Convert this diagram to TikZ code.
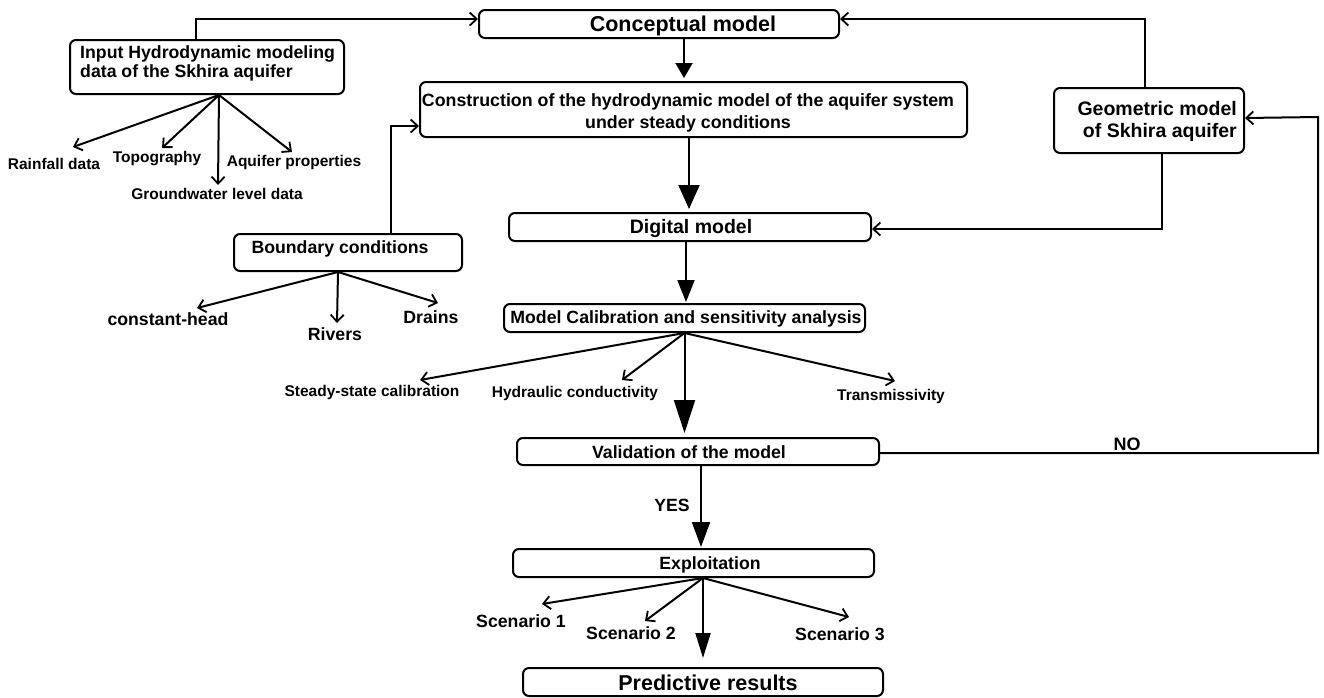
\documentclass[tikz,border=0pt]{standalone}
\usepackage{fontspec}
\setmainfont{Liberation Sans}
\usetikzlibrary{arrows.meta,calc}
\newcommand\myfs[2]{\fontsize{#1}{#2}\selectfont}
\begin{document}
\begin{tikzpicture}[x=1pt,y=-1pt,
  box/.style={draw, line width=2pt, rounded corners=6pt, inner sep=0pt, anchor=north west},
  txt/.style={inner sep=0pt, yshift=-2pt, font=\bfseries\myfs{17.7}{19}},
  bigtxt/.style={inner sep=0pt, yshift=-2pt, font=\bfseries\myfs{21.5}{24}},
  midtxt/.style={inner sep=0pt, yshift=-2pt, font=\bfseries\myfs{19.5}{22}},
  smalltxt/.style={inner sep=0pt, yshift=-1.5pt, font=\bfseries\myfs{15.5}{17}},
  conn/.style={line width=2pt},
  openarr/.style={conn, -{Straight Barb[length=7pt,width=13pt,line width=1.8pt]}},
  headA/.style={conn, -{Triangle[length=15pt,width=17pt]}},
  headB/.style={conn, -{Triangle[length=24pt,width=21pt]}},
  headC/.style={conn, -{Triangle[length=22pt,width=17pt]}},
  headD/.style={conn, -{Triangle[length=33pt,width=21pt]}},
  headE/.style={conn, -{Triangle[length=25pt,width=18pt]}},
  headF/.style={conn, -{Triangle[length=25pt,width=15pt]}},
 ]
\fill[white] (0,0) rectangle (1324,697);
\path[use as bounding box] (0,0) rectangle (1324,697);

% boxes
\node[box, minimum width=360pt, minimum height=28pt] (concept) at (478,9) {};
\node[bigtxt] (conceptT) at (683,24) {Conceptual model};

\node[box, minimum width=274pt, minimum height=54pt] (input) at (69,39) {};
\node[txt, align=left, anchor=west] (inputT) at (80,61) {Input Hydrodynamic modeling\\data of the Skhira aquifer};

\node[box, minimum width=547pt, minimum height=55pt] (construct) at (419,81) {};
\node[txt, align=center, font=\bfseries\myfs{17.8}{22}] (constructT) at (688,111) {Construction of the hydrodynamic model of the aquifer system\\under steady conditions};

\node[box, minimum width=190pt, minimum height=65pt] (geom) at (1053,87) {};
\node[midtxt, align=right, anchor=east] (geomT) at (1237,119) {Geometric model\\of Skhira aquifer};

\node[box, minimum width=362pt, minimum height=28pt] (digital) at (508,212) {};
\node[midtxt] (digitalT) at (691,226) {Digital model};

\node[box, minimum width=228pt, minimum height=37pt] (boundary) at (233,233) {};
\node[txt] (boundaryT) at (340,247) {Boundary conditions};

\node[box, minimum width=361pt, minimum height=28pt] (calib) at (503,303) {};
\node[txt] (calibT) at (686,317) {Model Calibration and sensitivity analysis};

\node[box, minimum width=362pt, minimum height=27pt] (valid) at (516,437) {};
\node[txt] (validT) at (689,450) {Validation of the model};

\node[box, minimum width=361pt, minimum height=28pt] (exploit) at (512,548) {};
\node[txt] (exploitT) at (710,563) {Exploitation};

\node[box, minimum width=360pt, minimum height=28pt] (predict) at (522,667) {};
\node[bigtxt] (predictT) at (708,681) {Predictive results};

% leaf labels
\node[smalltxt] (rain) at (54,162) {Rainfall data};
\node[smalltxt] (topo) at (157,157) {Topography};
\node[smalltxt] (aqui) at (294,161) {Aquifer properties};
\node[smalltxt] (ground) at (217,192) {Groundwater level data};

\node[txt] (chead) at (168,317) {constant-head};
\node[txt] (rivers) at (335,332) {Rivers};
\node[txt] (drains) at (431,315) {Drains};

\node[smalltxt] (steady) at (372,391) {Steady-state calibration};
\node[smalltxt] (hydro) at (575,392) {Hydraulic conductivity};
\node[smalltxt] (trans) at (891,395) {Transmissivity};

\node[txt] (sc1) at (521,619) {Scenario 1};
\node[txt] (sc2) at (631,631) {Scenario 2};
\node[txt] (sc3) at (840,632) {Scenario 3};

\node[txt, font=\bfseries\myfs{18}{20}] (no) at (1127,442) {NO};
\node[txt] (yes) at (672,503) {YES};

% branch origins and tips
\coordinate (inB) at ([xshift=12pt]input.south);
\coordinate (rainTip) at (73,147);
\coordinate (topoTip) at (162,148);
\coordinate (groundTip) at (218,185);
\coordinate (aquiTip) at (292,152);

\coordinate (bdB) at ([xshift=-10pt]boundary.south);
\coordinate (cheadTip) at (197,308);
\coordinate (riversTip) at (337,323);
\coordinate (drainsTip) at (438,303);

\coordinate (calB) at (calib.south);
\coordinate (steadyTip) at (420,380);
\coordinate (hydroTip) at (622,380);
\coordinate (transTip) at (895,381);

\coordinate (exB) at ([xshift=9.5pt]exploit.south);
\coordinate (sc1Tip) at (542,604);
\coordinate (sc2Tip) at (645,621);
\coordinate (sc3Tip) at (849,617);

\coordinate (cA) at ([xshift=25pt]concept.south);
\coordinate (csA) at ([xshift=-4.5pt]construct.south);
\coordinate (dA) at ([xshift=-4pt]digital.south);
\coordinate (vA) at ([xshift=3pt]valid.south);
\coordinate (noR) at (1318,117);

% feedback connectors
\draw[openarr] ([xshift=-11pt]input.north) |- ([yshift=5pt]concept.west);
\draw[openarr] ([xshift=-4pt]geom.north) |- ([yshift=5pt]concept.east);
\draw[openarr] ([xshift=13pt]geom.south) |- ([yshift=-2pt]digital.east);
\draw[openarr] ([xshift=43pt]boundary.north) |- ([yshift=-16.5pt]construct.west);
\draw[openarr] ([yshift=-1.5pt]valid.east) -| (noR) -- ([yshift=2.5pt]geom.east);

% main flow
\draw[headA, shorten >=3pt] (cA) -- (cA |- construct.north);
\draw[headB, shorten >=3pt] (csA) -- (csA |- digital.north);
\draw[headC, shorten >=1pt] (dA) -- (dA |- calib.north);
\draw[headD, shorten >=4pt] (calB) -- (calB |- valid.north);
\draw[headE, shorten >=1pt] (vA) -- (vA |- exploit.north);
\draw[headF, shorten >=9pt] (exB) -- (exB |- predict.north);

% branches
\draw[openarr] (inB) -- (rainTip);
\draw[openarr] (inB) -- (topoTip);
\draw[openarr] (inB) -- (groundTip);
\draw[openarr] (inB) -- (aquiTip);

\draw[openarr] (bdB) -- (cheadTip);
\draw[openarr] (bdB) -- (riversTip);
\draw[openarr] (bdB) -- (drainsTip);

\draw[openarr] (calB) -- (steadyTip);
\draw[openarr] (calB) -- (hydroTip);
\draw[openarr] (calB) -- (transTip);

\draw[openarr] (exB) -- (sc1Tip);
\draw[openarr] (exB) -- (sc2Tip);
\draw[openarr] (exB) -- (sc3Tip);
\end{tikzpicture}
\end{document}
